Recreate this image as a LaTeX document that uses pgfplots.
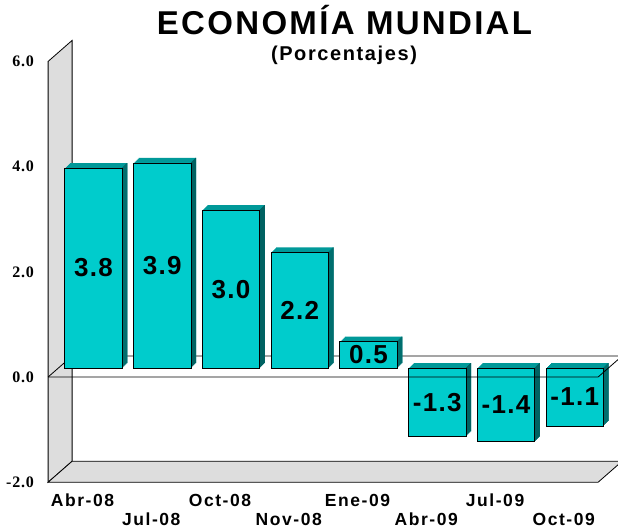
\documentclass[border=0pt]{standalone}
\usepackage{pgfplots}
\pgfplotsset{compat=1.18}
\usepackage{pgfplotstable}
\usepackage{fontspec}
\setmainfont{Liberation Sans}
\newfontfamily\titlefont[LetterSpace=7]{Liberation Sans}
\newfontfamily\subfont[LetterSpace=8]{Liberation Sans}
\newfontfamily\labfont[LetterSpace=9]{Liberation Sans}
\newfontfamily\barfont[LetterSpace=5]{Liberation Sans}
\newfontfamily\tickfont[LetterSpace=5]{Liberation Serif}
\definecolor{barfront}{HTML}{00CCCC}
\definecolor{bartop}{HTML}{009999}
\definecolor{barside}{HTML}{006262}
\definecolor{wall}{HTML}{DDDDDD}

\pgfplotstableread{
x v lab
0 3.8 3.8
1 3.9 3.9
2 3.0 3.0
3 2.2 2.2
4 0.5 0.5
5 -1.3 -1.3
6 -1.4 -1.4
7 -1.1 -1.1
}\data

\begin{document}
\begin{tikzpicture}
\path[use as bounding box] (0,0) rectangle (618pt,531pt);
\node[anchor=base, font=\fontsize{33}{35}\titlefont\bfseries] at (344.5pt,496pt) {ECONOMÍA MUNDIAL};
\node[anchor=base, font=\fontsize{20}{22}\subfont\bfseries] at (344pt,470pt) {(Porcentajes)};
\begin{axis}[
  at={(59.125pt,57.8pt)}, anchor=south west,
  scale only axis, width=550pt, height=420.8pt,
  xmin=-0.5, xmax=7.5, ymin=-2, ymax=6,
  enlargelimits=false, clip=false,
  axis line style={draw=none},
  major tick length=0pt,
  ytick={-2,0,2,4,6},
  yticklabels={-2.0,0.0,2.0,4.0,6.0},
  yticklabel style={font=\fontsize{16}{18}\tickfont\bfseries, anchor=east, inner sep=0pt, xshift=-25pt, yshift=-9pt},
  xtick={0,2,4,6},
  xticklabels={Abr-08,Oct-08,Ene-09,Jul-09},
  xticklabel style={font=\fontsize{17.5}{19}\labfont\bfseries, anchor=base, inner sep=0pt, xshift=-11pt, yshift=-32.8pt},
  extra x ticks={1,3,5,7},
  extra x tick labels={Jul-08,Nov-08,Abr-09,Oct-09},
  extra x tick style={xticklabel style={yshift=-19pt}},
]
% walls and floor
\draw[fill=wall, line width=0.8pt] ([shift={(-11pt,-9pt)}]axis cs:-0.5,-2) -- ([shift={(-11pt,-9pt)}]axis cs:-0.5,6) -- ([shift={(13pt,12pt)}]axis cs:-0.5,6) -- ([shift={(13pt,12pt)}]axis cs:-0.5,-2) -- cycle;
\draw[fill=wall, line width=0.8pt] ([shift={(-11pt,-9pt)}]axis cs:-0.5,-2) -- ([shift={(-11pt,-9pt)}]axis cs:7.5,-2) -- ([shift={(13pt,12pt)}]axis cs:7.5,-2) -- ([shift={(13pt,12pt)}]axis cs:-0.5,-2) -- cycle;
\draw[line width=0.8pt] ([shift={(-11pt,-9pt)}]axis cs:-0.5,0) -- ([shift={(13pt,12pt)}]axis cs:-0.5,0) -- ([shift={(13pt,12pt)}]axis cs:7.5,0);
% bar top faces (depth extrusion)
\pgfplotsinvokeforeach{1,...,5}{
  \addplot[ybar, bar width=57.5pt, bar shift=#1pt, fill=bartop, draw=none, yshift=#1pt] table[x=x, y=v] {\data};
}
% bar side faces
\pgfplotsinvokeforeach{1,...,5}{
  \addplot[ybar, bar width=1pt, bar shift={(28.25+#1)*1pt}, fill=barside, draw=none, yshift=#1pt] table[x=x, y=v] {\data};
}
% bar front faces
\addplot[ybar, bar width=57.5pt, bar shift=0pt, fill=barfront, draw=black, line width=0.7pt] table[x=x, y=v] {\data};
% front zero line
\draw[line width=0.8pt] ([shift={(-11pt,-9pt)}]axis cs:-0.5,0) -- ([shift={(-11pt,-9pt)}]axis cs:7.5,0) -- ([shift={(13pt,12pt)}]axis cs:7.5,0);
% value labels
\addplot[draw=none, mark=none, point meta=explicit symbolic,
  nodes near coords={\pgfplotspointmeta},
  every node near coord/.style={anchor=center, font=\fontsize{26}{28}\barfont\bfseries, text=black}]
  table[x=x, y expr=\thisrow{v}/2, meta=lab] {\data};
\end{axis}
\end{tikzpicture}
\end{document}
